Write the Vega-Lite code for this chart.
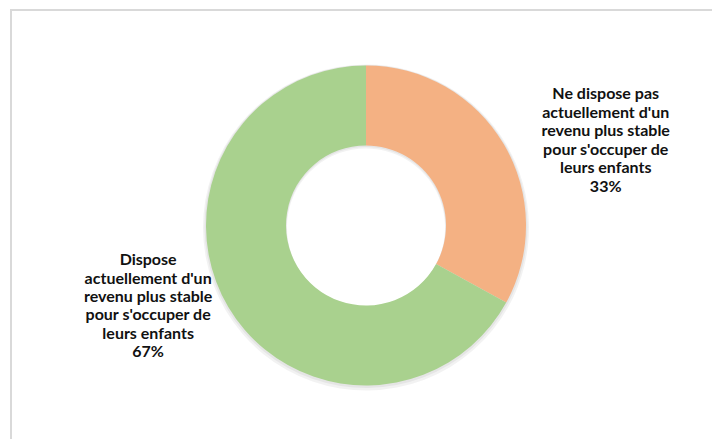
{
  "$schema": "https://vega.github.io/schema/vega-lite/v6.json",
  "autosize": {"type": "fit", "contains": "padding"},
  "width": 712,
  "height": 439,
  "padding": {"left": 11, "top": 10, "right": -4, "bottom": -4},
  "background": "#ffffff",
  "view": {"stroke": "#d9d9d9", "strokeWidth": 2, "fill": "#ffffff"},
  "config": {"view": {"stroke": "#d9d9d9", "strokeWidth": 2}},
  "data": {
    "values": [
      {"categorie": "Ne dispose pas actuellement d'un revenu plus stable pour s'occuper de leurs enfants", "etiquette": "Ne dispose pas\nactuellement d'un\nrevenu plus stable\npour s'occuper de\nleurs enfants\n33%", "valeur": 33, "rang": 1},
      {"categorie": "Dispose actuellement d'un revenu plus stable pour s'occuper de leurs enfants", "etiquette": "Dispose\nactuellement d'un\nrevenu plus stable\npour s'occuper de\nleurs enfants\n67%", "valeur": 67, "rang": 2}
    ]
  },
  "encoding": {
    "theta": {"field": "valeur", "type": "quantitative", "stack": true},
    "order": {"field": "rang", "type": "quantitative"}
  },
  "layer": [
    {
      "mark": {"type": "arc", "outerRadius": 163, "innerRadius": 79, "xOffset": 2.5, "yOffset": 1, "color": "#000000", "opacity": 0.05}
    },
    {
      "mark": {"type": "arc", "outerRadius": 161.5, "innerRadius": 79.5, "xOffset": 2.5, "yOffset": 0, "color": "#000000", "opacity": 0.05}
    },
    {
      "mark": {"type": "arc", "outerRadius": 160, "innerRadius": 80, "xOffset": 2.5, "yOffset": -1},
      "encoding": {
        "color": {
          "field": "categorie",
          "type": "nominal",
          "scale": {
            "domain": ["Ne dispose pas actuellement d'un revenu plus stable pour s'occuper de leurs enfants", "Dispose actuellement d'un revenu plus stable pour s'occuper de leurs enfants"],
            "range": ["#F4B183", "#A9D18E"]
          },
          "legend": null
        }
      }
    },
    {
      "mark": {"type": "text", "radius": 250, "dx": 27, "dy": -5, "lineBreak": "\n", "font": "Lato", "fontWeight": "bold", "fontSize": 16, "lineHeight": 18.5, "align": "center", "baseline": "middle", "color": "#111111"},
      "encoding": {"text": {"condition": {"test": "datum.rang == 1", "field": "etiquette"}, "value": ""}}
    },
    {
      "mark": {"type": "text", "radius": 220, "dx": -26, "dy": -78, "lineBreak": "\n", "font": "Lato", "fontWeight": "bold", "fontSize": 16, "lineHeight": 18.3, "align": "center", "baseline": "middle", "color": "#111111"},
      "encoding": {"text": {"condition": {"test": "datum.rang == 2", "field": "etiquette"}, "value": ""}}
    }
  ]
}
